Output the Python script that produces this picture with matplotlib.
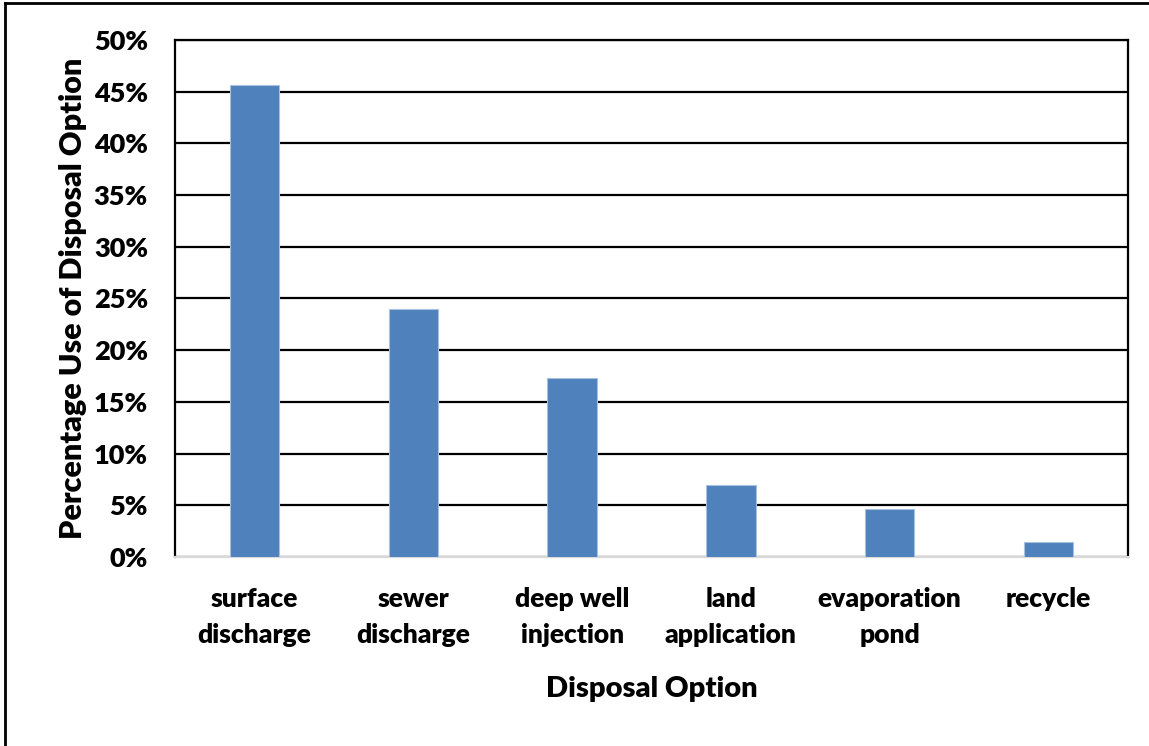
import matplotlib.pyplot as plt
from matplotlib.lines import Line2D
from matplotlib.ticker import PercentFormatter

# Share of each disposal option (percent)
options = ['surface\ndischarge', 'sewer\ndischarge', 'deep well\ninjection',
           'land\napplication', 'evaporation\npond', 'recycle']
usage = [45.6, 24.0, 17.35, 7.0, 4.6, 1.4]

plt.rcParams['font.family'] = ['Lato', 'DejaVu Sans']
plt.rcParams['font.weight'] = 'heavy'

fig = plt.figure(figsize=(11.49, 7.46), dpi=100)
ax = fig.add_axes([0.1523, 0.2534, 0.8294, 0.693])

x = range(len(options))
ax.bar(x, usage, width=0.31, color='#4F81BD', edgecolor='#A7C0DE',
       linewidth=0.8, zorder=3)

ax.set_xlim(-0.5, len(options) - 0.5)
ax.set_ylim(0, 50)
ax.set_yticks(range(0, 51, 5))
ax.yaxis.set_major_formatter(PercentFormatter(decimals=0))
ax.set_xticks(list(x))
ax.set_xticklabels(options, fontsize=19, fontweight='heavy', linespacing=1.6)
ax.tick_params(axis='y', length=0, pad=19.5, labelsize=19.5)
ax.tick_params(axis='x', length=0, pad=21.5)

ax.grid(axis='y', color='black', linewidth=1.6, zorder=1)
for side in ('left', 'right', 'top'):
    ax.spines[side].set_color('black')
    ax.spines[side].set_linewidth(1.6)
ax.spines['bottom'].set_color('#D9D9D9')
ax.spines['bottom'].set_linewidth(1.6)

ax.set_xlabel('Disposal Option', fontsize=21, fontweight='heavy', labelpad=21)
ax.set_ylabel('Percentage Use of Disposal Option', fontsize=22,
              fontweight='heavy', labelpad=5)

# frame lines along the top and left edge of the figure
fig.add_artist(Line2D([0.0045, 1.0], [0.996, 0.996], color='black',
                      linewidth=2, transform=fig.transFigure))
fig.add_artist(Line2D([0.0045, 0.0045], [0.0, 0.996], color='black',
                      linewidth=2, transform=fig.transFigure))

fig.savefig('out.png', dpi=100)
